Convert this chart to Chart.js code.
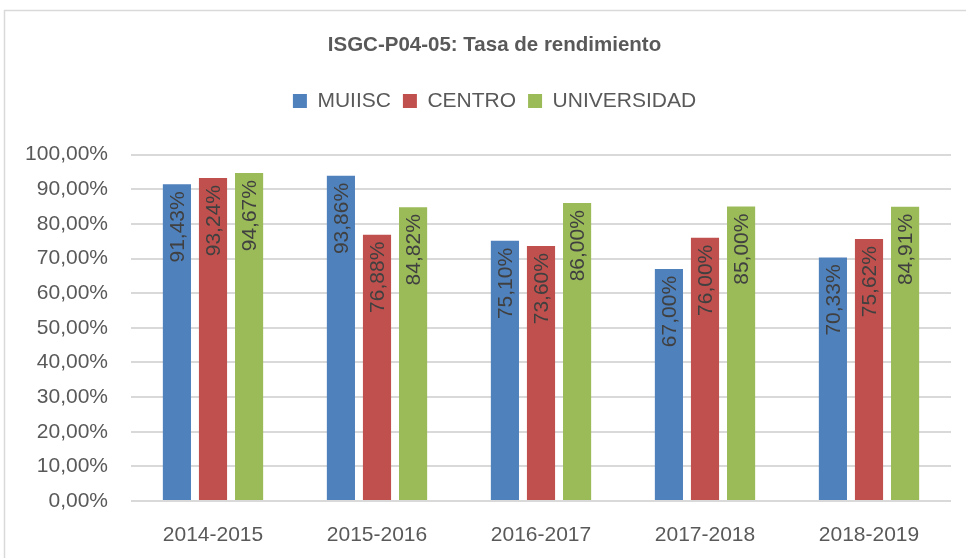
<!DOCTYPE html>
<html>
<head>
<meta charset="utf-8">
<script src="https://cdn.jsdelivr.net/npm/chart.js@4"></script>
<style>
  html, body { margin: 0; padding: 0; background: #fff; }
  #wrap { width: 966px; height: 558px; }
</style>
</head>
<body>
<div id="wrap"><canvas id="chart"></canvas></div>
<script>
var categories = ['2014-2015', '2015-2016', '2016-2017', '2017-2018', '2018-2019'];
var muiisc = [91.43, 93.86, 75.10, 67.00, 70.33];
var centro = [93.24, 76.88, 73.60, 76.00, 75.62];
var universidad = [94.67, 84.82, 86.00, 85.00, 84.91];

var FONT = "'Liberation Sans', Arial, sans-serif";

function pct(v) {
  return v.toFixed(2).replace('.', ',') + '%';
}

// light frame around the chart like the spreadsheet export
var framePlugin = {
  id: 'frame',
  beforeDraw: function(chart) {
    var c = chart.ctx;
    c.save();
    c.fillStyle = '#fff';
    c.fillRect(0, 0, chart.width, chart.height);
    c.strokeStyle = '#d9d9d9';
    c.lineWidth = 1.5;
    c.strokeRect(4.5, 10.5, chart.width + 20, chart.height + 20);
    c.restore();
  }
};

// extra space below the legend, and title + legend nudged right
var legendGap = {
  id: 'legendGap',
  beforeInit: function(chart) {
    var fit = chart.legend.fit;
    chart.legend.fit = function() {
      fit.bind(chart.legend)();
      this.height += 33;
    };
  },
  afterLayout: function(chart) {
    [chart.titleBlock, chart.legend].forEach(function(b) {
      b.left += 19;
      b.right += 19;
    });
  }
};

// rotated value labels inside the bars
var barLabels = {
  id: 'barLabels',
  afterDatasetsDraw: function(chart) {
    var c = chart.ctx;
    c.save();
    c.font = '21px ' + FONT;
    c.fillStyle = '#404040';
    c.textAlign = 'right';
    c.textBaseline = 'middle';
    chart.data.datasets.forEach(function(ds, i) {
      var meta = chart.getDatasetMeta(i);
      meta.data.forEach(function(bar, j) {
        c.save();
        c.translate(bar.x, bar.y + 7);
        c.rotate(-Math.PI / 2);
        c.fillText(pct(ds.data[j]), 0, 1);
        c.restore();
      });
    });
    c.restore();
  }
};

new Chart(document.getElementById('chart'), {
  type: 'bar',
  data: {
    labels: categories,
    datasets: [
      { label: 'MUIISC', data: muiisc, backgroundColor: '#4f81bd' },
      { label: 'CENTRO', data: centro, backgroundColor: '#c0504d' },
      { label: 'UNIVERSIDAD', data: universidad, backgroundColor: '#9bbb59' }
    ]
  },
  options: {
    responsive: true,
    maintainAspectRatio: false,
    animation: false,
    layout: { padding: { left: 0, right: 15, top: 0, bottom: 0 } },
    datasets: {
      bar: { categoryPercentage: 0.66, barPercentage: 0.78 }
    },
    plugins: {
      title: {
        display: true,
        text: 'ISGC-P04-05: Tasa de rendimiento',
        color: '#595959',
        font: { family: FONT, size: 20.5, weight: 'bold' },
        padding: { top: 33, bottom: 21 }
      },
      legend: {
        display: true,
        position: 'top',
        labels: {
          color: '#595959',
          font: { family: FONT, size: 21 },
          boxWidth: 14,
          boxHeight: 14,
          padding: 12
        }
      },
      tooltip: { enabled: false }
    },
    scales: {
      x: {
        grid: { display: false },
        border: { display: false },
        ticks: {
          color: '#595959',
          font: { family: FONT, size: 21 },
          padding: 14
        },
        afterFit: function(scale) { scale.height = 57; }
      },
      y: {
        min: 0,
        max: 100,
        ticks: {
          stepSize: 10,
          color: '#595959',
          font: { family: FONT, size: 21 },
          padding: 23,
          callback: function(v) { return pct(v); }
        },
        grid: { color: '#d9d9d9', lineWidth: 2, drawTicks: false },
        border: { display: false },
        afterFit: function(scale) { scale.width = 131; }
      }
    }
  },
  plugins: [framePlugin, legendGap, barLabels]
});
</script>
</body>
</html>
